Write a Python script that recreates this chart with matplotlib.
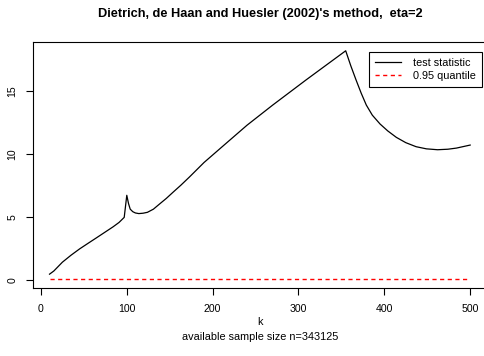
import matplotlib.pyplot as plt

# values
k_vals = [10, 15, 20, 25, 35, 45, 55, 64, 74, 84, 91, 97, 100, 102, 104, 107,
          110, 114, 119, 124, 131, 138, 146, 154, 163, 173, 190, 212, 240, 270,
          309, 330, 355, 361, 367, 373, 379, 386, 395, 404, 414, 425, 437, 449,
          462, 474, 484, 500]
stat_vals = [0.5, 0.75, 1.1, 1.45, 2.0, 2.5, 2.95, 3.35, 3.8, 4.25, 4.6, 5.0,
             6.75, 6.1, 5.65, 5.45, 5.35, 5.3, 5.33, 5.4, 5.65, 6.05, 6.5, 7.0,
             7.55, 8.2, 9.35, 10.65, 12.3, 13.9, 15.9, 16.95, 18.2, 17.0, 15.9,
             14.85, 13.9, 13.1, 12.4, 11.85, 11.34, 10.92, 10.6, 10.43, 10.36,
             10.4, 10.49, 10.73]
quantile = 0.1
k_range = [10, 500]

title = "Dietrich, de Haan and Huesler (2002)'s method,  eta=2"
xlabel = "k"
sublabel = "available sample size n=343125"

plt.rcParams['font.family'] = ['Liberation Sans', 'DejaVu Sans']

W, H = 485, 356
fig = plt.figure(figsize=(W / 100, H / 100), dpi=100)
ax = fig.add_axes([32.7 / W, 1 - 288.3 / H, (487 - 32.7) / W, (288.3 - 41.7) / H])

ax.plot(k_vals, stat_vals, color="black", lw=0.9, label="test statistic")
ax.plot(k_range, [quantile, quantile], color="red", lw=1.0, dashes=(3, 2.5),
        label="0.95 quantile")

ax.set_xlim(-9.6, 519.6)
ax.set_ylim(-0.62, 18.92)
ax.set_xticks([0, 100, 200, 300, 400, 500])
ax.set_yticks([0, 5, 10, 15])
ax.tick_params(direction="out", length=5, width=0.8, labelsize=7.6, pad=6)
for lab in ax.get_yticklabels():
    lab.set_rotation(90)
    lab.set_va("center")
for s in ax.spines.values():
    s.set_linewidth(0.8)

cx = 0.5 * (32.7 + 487) / W
fig.text(cx, 1 - 14 / H, title, ha="center", va="center",
         fontsize=9.2, fontweight="bold")
fig.text(cx, 1 - 322 / H, xlabel, ha="center", va="center", fontsize=7.8)
fig.text(cx, 1 - 337 / H, sublabel, ha="center", va="center", fontsize=7.8)

leg = ax.legend(loc="upper right", bbox_to_anchor=(482 / W, 1 - 52 / H),
                bbox_transform=fig.transFigure, fontsize=7.8, fancybox=False,
                framealpha=1, edgecolor="black", handlelength=2.4,
                borderpad=0.55, labelspacing=0.3, handletextpad=1.1,
                borderaxespad=0)
leg.get_frame().set_linewidth(0.8)

fig.savefig("out.png", dpi=100)
